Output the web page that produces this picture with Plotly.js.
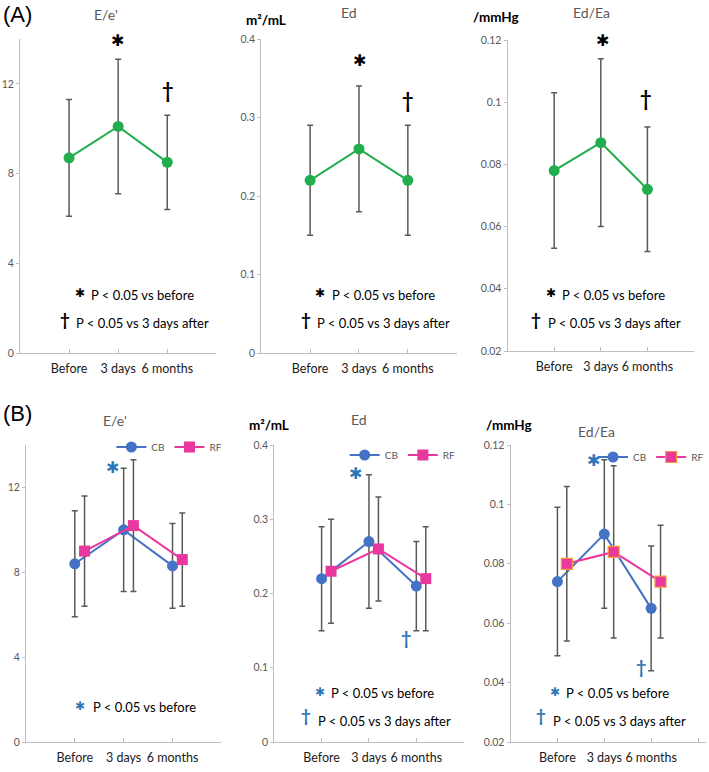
<!DOCTYPE html>
<html>
<head>
<meta charset="utf-8">
<script src="https://cdn.plot.ly/plotly-3.0.1.min.js"></script>
<style>html,body{margin:0;padding:0;background:#fff;}#chart{width:709px;height:772px;}</style>
</head>
<body>
<div id="chart"></div>
<script>
// ---------- DATA ----------
const categories = ['Before', '3 days', '6 months'];
const catIndex = [0, 1, 2];

// (A) all patients: mean and SD
const aEeMean = [8.7, 10.1, 8.5];
const aEeSd   = [2.6, 3.0, 2.1];
const aEdMean = [0.22, 0.26, 0.22];
const aEdSd   = [0.07, 0.08, 0.07];
const aEdEaMean = [0.078, 0.087, 0.072];
const aEdEaSd   = [0.025, 0.027, 0.020];

// (B) CB vs RF
const bEeCbMean = [8.4, 10.0, 8.3];
const bEeCbSd   = [2.5, 2.9, 2.0];
const bEeRfMean = [9.0, 10.2, 8.6];
const bEeRfSd   = [2.6, 3.1, 2.2];

const bEdCbMean = [0.22, 0.27, 0.21];
const bEdCbSd   = [0.07, 0.09, 0.06];
const bEdRfMean = [0.23, 0.26, 0.22];
const bEdRfSd   = [0.07, 0.07, 0.07];

const bEdEaCbMean = [0.074, 0.090, 0.065];
const bEdEaCbSd   = [0.025, 0.025, 0.021];
const bEdEaRfMean = [0.080, 0.084, 0.074];
const bEdEaRfSd   = [0.026, 0.029, 0.019];

const seriesNames = ['CB', 'RF'];

// ---------- STYLE / LAYOUT ----------
const W = 709, H = 772;
const px = x => x / W;
const py = y => 1 - y / H;
const FONT = 'Lato, "Open Sans", sans-serif';
const GREEN = '#22AE4C', BLUE = '#4472C4', PINK = '#E8389E', ORANGE = '#F59A3C';
const ERRC = '#595959', AXC = '#BFBFBF', SIGBLUE = '#2E75B6';
const rfShift = 0.2;
const rfX = catIndex.map(v => v + rfShift);

function err(sd) { return {type: 'data', array: sd, color: ERRC, thickness: 1.5, width: 3}; }

function trA(mean, sd, ax) {
  return {x: catIndex, y: mean, error_y: err(sd), mode: 'lines+markers', type: 'scatter',
    line: {color: GREEN, width: 2}, marker: {size: 11, color: GREEN},
    xaxis: 'x' + ax, yaxis: 'y' + ax, showlegend: false, cliponaxis: false};
}
function trB(xs, mean, sd, ax, name, color, symbol, lg, border) {
  return {x: xs, y: mean, error_y: err(sd), mode: 'lines+markers', type: 'scatter', name: name,
    line: {color: color, width: 2},
    marker: {size: 11, color: color, symbol: symbol, line: {color: border || color, width: border ? 1.2 : 0}},
    xaxis: 'x' + ax, yaxis: 'y' + ax, legend: lg, cliponaxis: false};
}

const data = [
  trA(aEeMean, aEeSd, ''),
  trA(aEdMean, aEdSd, '2'),
  trA(aEdEaMean, aEdEaSd, '3'),
  trB(catIndex, bEeCbMean, bEeCbSd, '4', seriesNames[0], BLUE, 'circle', 'legend'),
  trB(rfX, bEeRfMean, bEeRfSd, '4', seriesNames[1], PINK, 'square', 'legend'),
  trB(catIndex, bEdCbMean, bEdCbSd, '5', seriesNames[0], BLUE, 'circle', 'legend2'),
  trB(rfX, bEdRfMean, bEdRfSd, '5', seriesNames[1], PINK, 'square', 'legend2'),
  trB(catIndex, bEdEaCbMean, bEdEaCbSd, '6', seriesNames[0], BLUE, 'circle', 'legend3'),
  trB(rfX, bEdEaRfMean, bEdEaRfSd, '6', seriesNames[1], PINK, 'square', 'legend3', ORANGE)
];

function xAx(x0, x1, yAnchor, xr) {
  return {domain: [px(x0), px(x1)], anchor: yAnchor, range: xr || [-1, 3],
    tickvals: [0, 1, 2, 3], ticktext: categories.concat(['']), tickangle: 0,
    ticks: 'inside', ticklen: 4, tickcolor: AXC, showline: true, linecolor: AXC, linewidth: 1,
    showgrid: false, zeroline: false, ticklabelstandoff: 4,
    tickfont: {family: FONT, size: 12.5, color: '#1a1a1a'}, fixedrange: true};
}
function yAx(y0, y1, xAnchor, range, dtick, fmt) {
  return {domain: [py(y1), py(y0)], anchor: xAnchor, range: range, dtick: dtick, tick0: range[0],
    tickformat: fmt, ticks: 'outside', ticklen: 3, tickcolor: AXC, showline: true, linecolor: AXC,
    linewidth: 1, showgrid: false, zeroline: false, ticklabelstandoff: 0,
    tickfont: {family: FONT, size: 10.5, color: '#595959'}, fixedrange: true};
}

function ann(text, x, y, o) {
  o = o || {};
  return {text: text, xref: 'paper', yref: 'paper', x: px(x), y: py(y), showarrow: false,
    xanchor: o.xa || 'center', yanchor: 'middle',
    font: {family: o.family || FONT, size: o.size || 13, color: o.color || '#000'}};
}
const STAR = '\u2731', DAG = '\u2020';
function star(x, y, size, color) { return ann(STAR, x, y, {family: 'DejaVu Sans', size: size, color: color}); }
function dag(x, y, size, color) { return ann('<b>' + DAG + '</b>', x, y, {size: size, color: color}); }
const note1 = 'P < 0.05 vs before', note2 = 'P < 0.05 vs 3 days after';
const TGRAY = '#595959';

const annotations = [
  // Panel A
  ann('(A)', 18, 15, {size: 22, family: 'Liberation Sans, Arial, sans-serif'}),
  ann("E/e'", 106, 15, {size: 14, color: TGRAY}),
  star(118, 41, 16, '#000'), dag(168, 90, 20, '#000'),
  star(80, 293, 12, '#000'), ann(note1, 89, 295, {xa: 'left'}),
  dag(65, 319, 17, '#000'), ann(note2, 74, 323, {xa: 'left'}),

  ann('<b>m\u00B2/mL</b>', 245, 20, {xa: 'left', size: 13.5}),
  ann('Ed', 350, 12, {size: 14, color: TGRAY}),
  star(361, 60, 16, '#000'), dag(409, 100, 20, '#000'),
  star(321, 293, 12, '#000'), ann(note1, 331, 295, {xa: 'left'}),
  dag(307, 319, 17, '#000'), ann(note2, 316, 323, {xa: 'left'}),

  ann('<b>/mmHg</b>', 472, 17, {xa: 'left', size: 13.5}),
  ann('Ed/Ea', 593, 13, {size: 14, color: TGRAY}),
  star(604, 41, 16, '#000'), dag(648, 98, 20, '#000'),
  star(553, 293, 12, '#000'), ann(note1, 562, 295, {xa: 'left'}),
  dag(538, 319, 17, '#000'), ann(note2, 548, 323, {xa: 'left'}),

  // Panel B
  ann('(B)', 18, 413, {size: 22, family: 'Liberation Sans, Arial, sans-serif'}),
  ann("E/e'", 115, 420, {size: 14, color: TGRAY}),
  star(113, 467, 16, SIGBLUE),
  star(80, 706, 12, SIGBLUE), ann(note1, 91, 707, {xa: 'left'}),

  ann('<b>m\u00B2/mL</b>', 248, 425, {xa: 'left', size: 13.5}),
  ann('Ed', 360, 419, {size: 14, color: TGRAY}),
  star(357, 474, 16, SIGBLUE), dag(407, 638, 18, SIGBLUE),
  star(321, 692, 12, SIGBLUE), ann(note1, 330, 693, {xa: 'left'}),
  dag(307, 715, 17, SIGBLUE), ann(note2, 317, 721, {xa: 'left'}),

  ann('<b>/mmHg</b>', 485, 425, {xa: 'left', size: 13.5}),
  ann('Ed/Ea', 598, 431, {size: 14, color: TGRAY}),
  star(595, 460, 16, SIGBLUE), dag(643, 667, 18, SIGBLUE),
  star(557, 692, 12, SIGBLUE), ann(note1, 566, 693, {xa: 'left'}),
  dag(543, 715, 17, SIGBLUE), ann(note2, 553, 721, {xa: 'left'})
];

function leg(xr, yc) {
  return {orientation: 'h', xanchor: 'right', yanchor: 'middle', x: px(xr), y: py(yc),
    font: {family: FONT, size: 10, color: TGRAY}, bgcolor: 'rgba(0,0,0,0)', borderwidth: 0,
    itemwidth: 30, tracegroupgap: 0, itemclick: false, itemdoubleclick: false};
}

const layout = {
  width: W, height: H, margin: {l: 0, r: 0, t: 0, b: 0},
  paper_bgcolor: '#fff', plot_bgcolor: 'rgba(0,0,0,0)',
  font: {family: FONT},
  showlegend: true,
  xaxis: xAx(20, 217, 'y'),
  yaxis: yAx(39, 353, 'x', [0, 14], 4),
  xaxis2: xAx(262, 458, 'y2'),
  yaxis2: yAx(39, 353, 'x2', [0, 0.4], 0.1),
  xaxis3: xAx(509, 696, 'y3'),
  yaxis3: yAx(40, 351, 'x3', [0.02, 0.12], 0.02),
  xaxis4: xAx(26, 222, 'y4'),
  yaxis4: yAx(445, 742, 'x4', [0, 14], 4),
  xaxis5: xAx(275, 465, 'y5'),
  yaxis5: yAx(445, 742, 'x5', [0, 0.4], 0.1),
  xaxis6: xAx(512, 708, 'y6', [-1, 3.17]),
  yaxis6: yAx(445, 742, 'x6', [0.02, 0.12], 0.02),
  legend: leg(228, 447),
  legend2: leg(462, 455),
  legend3: leg(711, 457),
  annotations: annotations
};

Plotly.newPlot('chart', data, layout, {displayModeBar: false, staticPlot: true});
</script>
</body>
</html>
